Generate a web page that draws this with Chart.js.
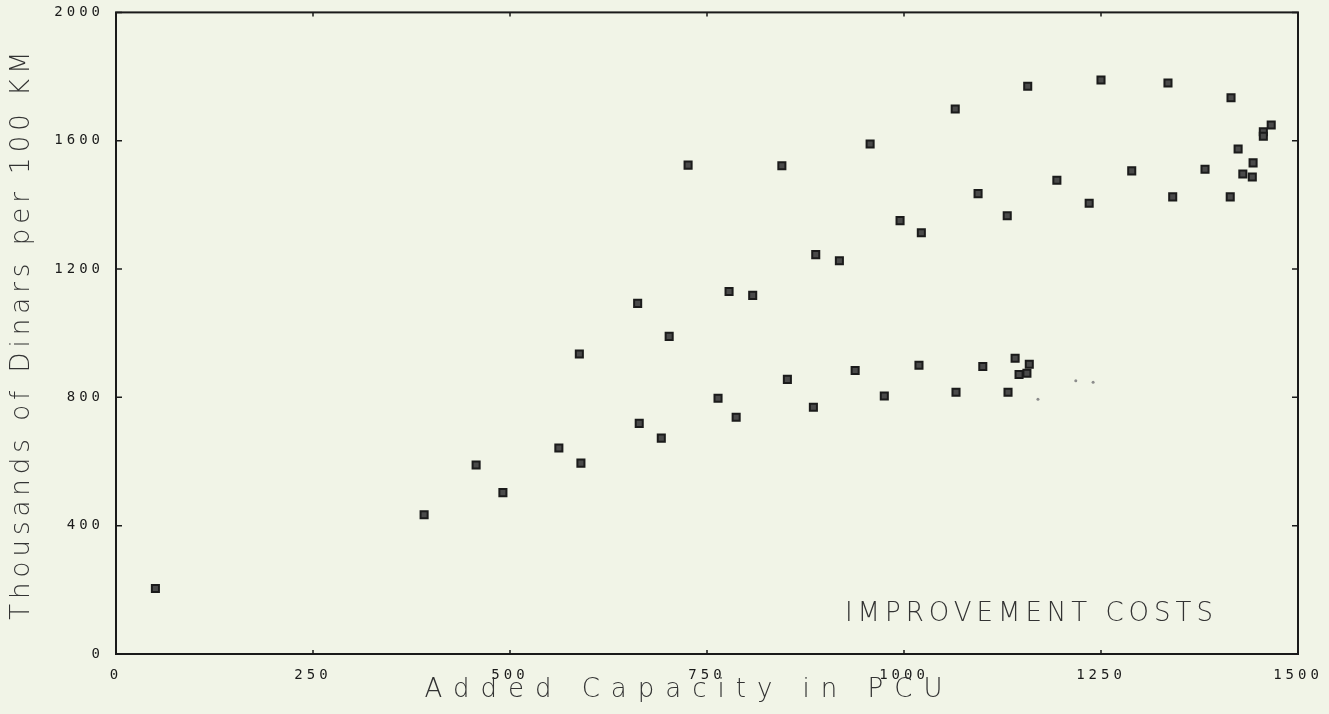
<!DOCTYPE html>
<html>
<head>
<meta charset="utf-8">
<script src="https://cdn.jsdelivr.net/npm/chart.js@4.4.1/dist/chart.umd.min.js"></script>
<style>
  html, body { margin: 0; padding: 0; background: #f1f4e7; }
  #chart { display: block; }
</style>
</head>
<body>
<canvas id="chart" width="1329" height="714"></canvas>
<script>
// values (added capacity in PCU, cost in thousands of dinars per 100 km)
const capacity = [50, 391, 457, 491, 562, 590, 588, 662, 664, 692, 702, 726, 764, 778, 787, 808,
  845, 852, 885, 888, 918, 938, 957, 975, 995, 1019, 1022, 1065, 1066, 1094, 1100, 1131,
  1132, 1141, 1146, 1156, 1157, 1159, 1194, 1235, 1250, 1289, 1335, 1341, 1382, 1414, 1415,
  1424, 1430, 1442, 1443, 1456, 1456, 1466];
const cost = [204, 434, 589, 503, 642, 595, 935, 1093, 719, 673, 990, 1524, 797, 1130, 738, 1118,
  1522, 856, 769, 1245, 1226, 884, 1590, 804, 1351, 900, 1313, 1699, 816, 1435, 896, 1366,
  816, 922, 871, 875, 1770, 903, 1477, 1405, 1789, 1506, 1780, 1425, 1511, 1425, 1734,
  1574, 1496, 1487, 1531, 1628, 1614, 1649];

// faint specks left on the original plot
const faintCapacity = [1170, 1218, 1240];
const faintCost = [794, 852, 847];

const xTicks = [0, 250, 500, 750, 1000, 1250, 1500];
const yTicks = [0, 400, 800, 1200, 1600, 2000];

const xTitle = 'Added Capacity in PCU';
const yTitle = 'Thousands of Dinars per 100 KM';
const noteText = 'IMPROVEMENT COSTS';

const ink = '#1a1a1a';

const toPoints = (xs, ys) => xs.map((x, i) => ({ x: x, y: ys[i] }));

// frame, inward ticks, axis titles and the note
const plotterDecor = {
  id: 'plotterDecor',
  beforeDraw(chart) {
    chart.ctx.letterSpacing = '4px';
  },
  afterDraw(chart) {
    const ctx = chart.ctx;
    const a = chart.chartArea;
    const xs = chart.scales.x, ys = chart.scales.y;
    ctx.save();
    ctx.strokeStyle = ink;
    ctx.lineWidth = 2;
    ctx.strokeRect(a.left, a.top, a.right - a.left, a.bottom - a.top);

    ctx.lineWidth = 1.5;
    ctx.beginPath();
    yTicks.forEach(v => {
      const py = ys.getPixelForValue(v);
      ctx.moveTo(a.left, py); ctx.lineTo(a.left + 6, py);
      ctx.moveTo(a.right, py); ctx.lineTo(a.right - 6, py);
    });
    xTicks.forEach(v => {
      const px = xs.getPixelForValue(v);
      ctx.moveTo(px, a.bottom); ctx.lineTo(px, a.bottom - 4);
      ctx.moveTo(px, a.top); ctx.lineTo(px, a.top + 4);
    });
    ctx.stroke();

    ctx.fillStyle = '#333';
    ctx.textBaseline = 'middle';
    ctx.textAlign = 'center';
    ctx.font = '200 26px "DejaVu Sans"';

    ctx.letterSpacing = '11px';
    ctx.fillText(xTitle, 689, 690);

    ctx.save();
    ctx.translate(22, (a.top + a.bottom) / 2);
    ctx.rotate(-Math.PI / 2);
    ctx.letterSpacing = '5px';
    ctx.fillText(yTitle, 0, 0);
    ctx.restore();

    ctx.letterSpacing = '5px';
    ctx.textAlign = 'left';
    ctx.fillText(noteText, xs.getPixelForValue(925), ys.getPixelForValue(123));
    ctx.restore();
  }
};

new Chart(document.getElementById('chart'), {
  type: 'scatter',
  data: {
    datasets: [
      {
        label: 'Improvement costs',
        data: toPoints(capacity, cost),
        pointStyle: 'rect',
        pointRadius: 5,
        pointBorderWidth: 2,
        pointBackgroundColor: '#4a4a4a',
        pointBorderColor: '#1b1b1b'
      },
      {
        label: 'specks',
        data: toPoints(faintCapacity, faintCost),
        pointStyle: 'circle',
        pointRadius: 1.5,
        pointBorderWidth: 0,
        pointBackgroundColor: '#8c8c8c'
      }
    ]
  },
  options: {
    responsive: false,
    animation: false,
    layout: { padding: { top: 12, right: 31, left: 0, bottom: 0 } },
    plugins: {
      legend: { display: false },
      tooltip: { enabled: false }
    },
    scales: {
      x: {
        type: 'linear',
        min: 0,
        max: 1500,
        afterBuildTicks: s => { s.ticks = xTicks.map(v => ({ value: v })); },
        afterFit: s => { s.height = 60; },
        grid: { display: false },
        border: { display: false },
        ticks: {
          color: ink,
          padding: 5,
          maxRotation: 0,
          callback: v => String(v),
          font: { family: '"DejaVu Sans Mono"', size: 14 }
        }
      },
      y: {
        type: 'linear',
        min: 0,
        max: 2000,
        afterBuildTicks: s => { s.ticks = yTicks.map(v => ({ value: v })); },
        afterFit: s => { s.width = 116; },
        grid: { display: false },
        border: { display: false },
        ticks: {
          color: ink,
          padding: 4,
          callback: v => String(v),
          font: { family: '"DejaVu Sans Mono"', size: 14 }
        }
      }
    }
  },
  plugins: [plotterDecor]
});
</script>
</body>
</html>
